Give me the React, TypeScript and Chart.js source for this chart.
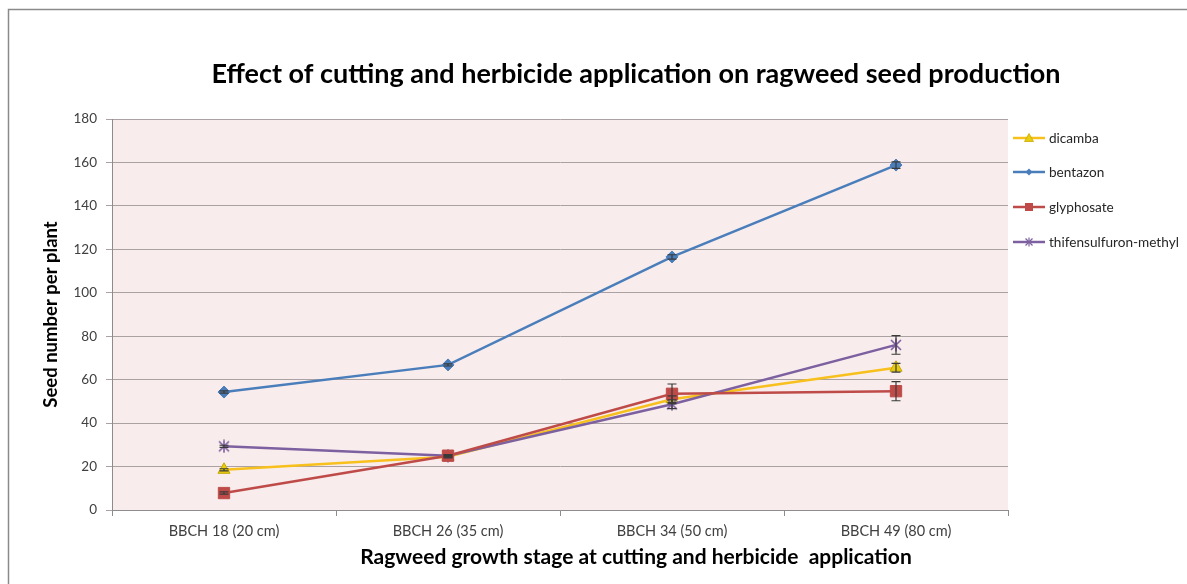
import React, { useEffect, useRef } from 'react';
import { Chart, registerables } from 'chart.js';

Chart.register(...registerables);

const categories = ['BBCH 18 (20 cm)', 'BBCH 26 (35 cm)', 'BBCH 34 (50 cm)', 'BBCH 49 (80 cm)'];
const dicamba = [18.5, 24.5, 51, 65.5];
const dicambaErr = [0.5, 0.5, 1.5, 2];
const bentazon = [54.3, 66.8, 116.5, 158.8];
const bentazonErr = [0.5, 0.5, 1, 1.5];
const glyphosate = [7.8, 25, 53.5, 54.7];
const glyphosateErr = [0.5, 0.5, 4.5, 4.4];
const thifensulfuron = [29.3, 25, 48.7, 76];
const thifensulfuronErr = [0.5, 0.5, 2, 4.3];
const yMin = 0;
const yMax = 180;
const yStep = 20;

const seriesNames = ['dicamba', 'bentazon', 'glyphosate', 'thifensulfuron-methyl'];
const colors = {
  dicamba: '#f8c01c',
  dicambaFill: '#e8cc10',
  bentazon: '#4a7ebb',
  glyphosate: '#be4b48',
  thifen: '#7d60a0',
};

const FONT = 'Lato, "Open Sans", sans-serif';

function makeStar(color: string) {
  const c = document.createElement('canvas');
  c.width = 14;
  c.height = 14;
  const g = c.getContext('2d')!;
  g.strokeStyle = color;
  g.lineWidth = 1.6;
  g.beginPath();
  g.moveTo(2, 2);
  g.lineTo(12, 12);
  g.moveTo(12, 2);
  g.lineTo(2, 12);
  g.moveTo(7, 0.5);
  g.lineTo(7, 13.5);
  g.stroke();
  return c;
}

const framePlugin = {
  id: 'frameBg',
  beforeDraw(chart: any) {
    const { ctx, chartArea, width, height } = chart;
    ctx.save();
    ctx.fillStyle = '#ffffff';
    ctx.fillRect(0, 0, width, height);
    ctx.strokeStyle = '#8a8a8a';
    ctx.lineWidth = 1.5;
    ctx.beginPath();
    ctx.moveTo(8.5, height);
    ctx.lineTo(8.5, 9.5);
    ctx.lineTo(width, 9.5);
    ctx.stroke();
    ctx.fillStyle = '#f8eced';
    ctx.fillRect(chartArea.left, chartArea.top, chartArea.right - chartArea.left, chartArea.bottom - chartArea.top);
    ctx.restore();
  },
};

const errorBarPlugin = {
  id: 'errorBars',
  afterDatasetsDraw(chart: any) {
    const ctx = chart.ctx;
    const y = chart.scales.y;
    chart.data.datasets.forEach((ds: any, i: number) => {
      const errs = ds.errors;
      if (!errs) return;
      const meta = chart.getDatasetMeta(i);
      meta.data.forEach((pt: any, j: number) => {
        const v = ds.data[j];
        const e = errs[j];
        const top = y.getPixelForValue(v + e);
        const bot = y.getPixelForValue(v - e);
        ctx.save();
        ctx.strokeStyle = '#3a3a3a';
        ctx.lineWidth = 1.2;
        ctx.beginPath();
        ctx.moveTo(pt.x, top);
        ctx.lineTo(pt.x, bot);
        ctx.moveTo(pt.x - 4.5, top);
        ctx.lineTo(pt.x + 4.5, top);
        ctx.moveTo(pt.x - 4.5, bot);
        ctx.lineTo(pt.x + 4.5, bot);
        ctx.stroke();
        ctx.restore();
      });
    });
  },
};

function LegendMarker({ idx }: { idx: number }) {
  const lineColor = [colors.dicamba, colors.bentazon, colors.glyphosate, colors.thifen][idx];
  let marker: any = null;
  if (idx === 0) marker = <polygon points="16,2.5 20.5,10.5 11.5,10.5" fill={colors.dicambaFill} stroke="#c8a800" strokeWidth="0.8" />;
  if (idx === 1) marker = <polygon points="16,3.5 19.5,7 16,10.5 12.5,7" fill={colors.bentazon} />;
  if (idx === 2) marker = <rect x="12" y="3" width="8" height="8" fill={colors.glyphosate} />;
  if (idx === 3)
    marker = (
      <g stroke={colors.thifen} strokeWidth="1.2">
        <line x1="12.5" y1="3.5" x2="19.5" y2="10.5" />
        <line x1="19.5" y1="3.5" x2="12.5" y2="10.5" />
        <line x1="16" y1="2.5" x2="16" y2="11.5" />
      </g>
    );
  return (
    <svg width="34" height="14" style={{ display: 'block' }}>
      <line x1="0" y1="7" x2="32" y2="7" stroke={lineColor} strokeWidth="2.5" />
      {marker}
    </svg>
  );
}

const legendCenters = [138, 172, 207, 242];

export default function App() {
  const ref = useRef<HTMLCanvasElement | null>(null);

  useEffect(() => {
    if (!ref.current) return;
    const star = makeStar(colors.thifen);
    const chart = new Chart(ref.current, {
      type: 'line',
      data: {
        labels: categories,
        datasets: [
          {
            label: seriesNames[0],
            data: dicamba,
            errors: dicambaErr,
            borderColor: colors.dicamba,
            backgroundColor: colors.dicambaFill,
            pointBorderColor: '#c8a800',
            pointBorderWidth: 1,
            pointStyle: 'triangle',
            pointRadius: 7,
            borderWidth: 2.5,
            order: 2,
          } as any,
          {
            label: seriesNames[1],
            data: bentazon,
            errors: bentazonErr,
            borderColor: colors.bentazon,
            backgroundColor: colors.bentazon,
            pointStyle: 'rectRot',
            pointRadius: 6,
            pointBorderWidth: 1,
            borderWidth: 2.5,
            order: 3,
          } as any,
          {
            label: seriesNames[2],
            data: glyphosate,
            errors: glyphosateErr,
            borderColor: colors.glyphosate,
            backgroundColor: colors.glyphosate,
            pointStyle: 'rect',
            pointRadius: 8,
            pointBorderWidth: 1,
            borderWidth: 2.5,
            order: 0,
          } as any,
          {
            label: seriesNames[3],
            data: thifensulfuron,
            errors: thifensulfuronErr,
            borderColor: colors.thifen,
            backgroundColor: colors.thifen,
            pointStyle: star,
            pointRadius: 7,
            borderWidth: 2.5,
            order: 1,
          } as any,
        ],
      },
      options: {
        animation: false,
        responsive: false,
        events: [],
        layout: { padding: { left: 0, right: 0, top: 0, bottom: 0 } },
        plugins: {
          legend: { display: false },
          tooltip: { enabled: false },
          title: {
            display: true,
            text: 'Effect of cutting and herbicide application on ragweed seed production',
            color: '#000000',
            font: { family: FONT, size: 27, weight: 'bold', lineHeight: 1.2 },
            padding: { top: 57.8, bottom: 28.8 },
          },
          subtitle: {
            display: true,
            position: 'bottom',
            text: 'Ragweed growth stage at cutting and herbicide  application',
            color: '#000000',
            font: { family: FONT, size: 21, weight: 'bold', lineHeight: 1.2 },
            padding: { top: 0, bottom: 14.4 },
          },
        },
        scales: {
          x: {
            type: 'category',
            offset: true,
            grid: {
              offset: true,
              drawOnChartArea: false,
              drawTicks: true,
              tickLength: 6,
              color: '#8c8c8c',
            },
            border: { display: true, color: '#8c8c8c', width: 1 },
            ticks: {
              color: '#404040',
              font: { family: FONT, size: 14.5 },
              padding: 7,
              maxRotation: 0,
            },
            afterFit(scale: any) {
              scale.height = 584 - 510 - 39.6;
            },
          },
          y: {
            type: 'linear',
            position: 'left',
            min: yMin,
            max: yMax,
            ticks: {
              stepSize: yStep,
              color: '#404040',
              font: { family: FONT, size: 13.5 },
              padding: 9,
            },
            grid: {
              color: '#aaa2a2',
              lineWidth: 1,
              tickLength: 6,
            },
            border: { display: true, color: '#8c8c8c', width: 1 },
            title: {
              display: true,
              text: 'Seed number per plant',
              color: '#000000',
              font: { family: FONT, size: 18.5, weight: 'bold', lineHeight: 1.2 },
              padding: { top: 39.9, bottom: 0 },
            },
            afterFit(scale: any) {
              scale.width = 112;
            },
          },
          yRight: {
            type: 'linear',
            position: 'right',
            display: true,
            ticks: { display: false },
            grid: { drawOnChartArea: false, drawTicks: false },
            border: { display: false },
            afterFit(scale: any) {
              scale.width = 1272 - 1008;
            },
          },
        },
      } as any,
      plugins: [framePlugin, errorBarPlugin],
    });
    return () => chart.destroy();
  }, []);

  return (
    <div style={{ position: 'fixed', left: 0, top: 0, width: 1187, height: 584, overflow: 'hidden', background: '#fff' }}>
      <canvas ref={ref} width={1272} height={584} style={{ position: 'absolute', left: 0, top: 0 }} />
      {seriesNames.map((name, i) => (
        <div
          key={name}
          style={{
            position: 'absolute',
            left: 1013,
            top: legendCenters[i] - 8,
            height: 16,
            display: 'flex',
            alignItems: 'center',
            fontFamily: FONT,
            fontSize: 13.6,
            color: '#262626',
            whiteSpace: 'nowrap',
          }}
        >
          <LegendMarker idx={i} />
          <span style={{ marginLeft: 2 }}>{name}</span>
        </div>
      ))}
    </div>
  );
}
